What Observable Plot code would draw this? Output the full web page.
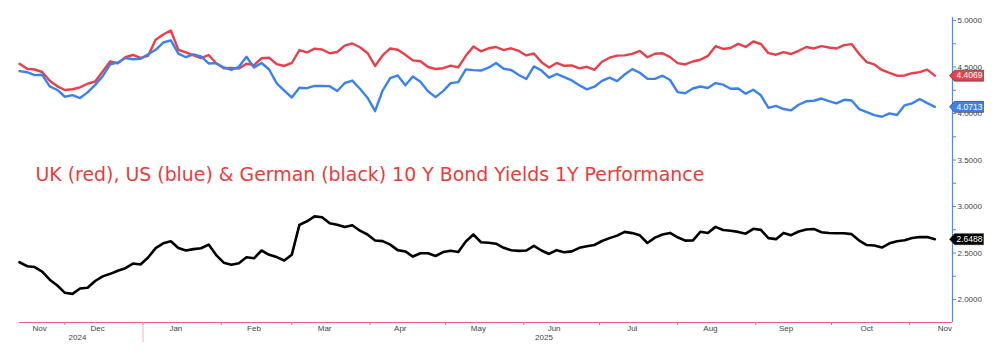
<!DOCTYPE html>
<html><head><meta charset="utf-8">
<script src="https://cdn.jsdelivr.net/npm/d3@7"></script>
<script src="https://cdn.jsdelivr.net/npm/@observablehq/plot@0.6"></script>
<style>body{margin:0;background:#fff}</style>
</head><body><div id="chart"></div>
<script>
const dates = [
"2024-11-13","2024-11-16","2024-11-19","2024-11-22","2024-11-25","2024-11-28","2024-12-01","2024-12-04","2024-12-07","2024-12-10",
"2024-12-13","2024-12-16","2024-12-19","2024-12-22","2024-12-25","2024-12-28","2024-12-31","2025-01-03","2025-01-06","2025-01-09",
"2025-01-12","2025-01-15","2025-01-18","2025-01-21","2025-01-24","2025-01-27","2025-01-30","2025-02-02","2025-02-05","2025-02-08",
"2025-02-11","2025-02-14","2025-02-17","2025-02-20","2025-02-23","2025-02-26","2025-03-01","2025-03-04","2025-03-07","2025-03-10",
"2025-03-13","2025-03-16","2025-03-19","2025-03-22","2025-03-25","2025-03-28","2025-03-31","2025-04-03","2025-04-06","2025-04-09",
"2025-04-12","2025-04-15","2025-04-18","2025-04-21","2025-04-24","2025-04-27","2025-04-30","2025-05-03","2025-05-06","2025-05-09",
"2025-05-12","2025-05-15","2025-05-18","2025-05-21","2025-05-24","2025-05-27","2025-05-30","2025-06-02","2025-06-05","2025-06-08",
"2025-06-11","2025-06-14","2025-06-17","2025-06-20","2025-06-23","2025-06-26","2025-06-29","2025-07-02","2025-07-05","2025-07-08",
"2025-07-11","2025-07-14","2025-07-17","2025-07-20","2025-07-23","2025-07-26","2025-07-29","2025-08-01","2025-08-04","2025-08-07",
"2025-08-10","2025-08-13","2025-08-16","2025-08-19","2025-08-22","2025-08-25","2025-08-28","2025-08-31","2025-09-03","2025-09-06",
"2025-09-09","2025-09-12","2025-09-15","2025-09-18","2025-09-21","2025-09-24","2025-09-27","2025-09-30","2025-10-03","2025-10-06",
"2025-10-09","2025-10-12","2025-10-15","2025-10-18","2025-10-21","2025-10-24","2025-10-27","2025-10-30","2025-11-02","2025-11-05",
"2025-11-08","2025-11-11"];

const ukYield = [4.534,4.480,4.473,4.446,4.352,4.292,4.253,4.261,4.281,4.320,
 4.344,4.452,4.561,4.538,4.606,4.629,4.598,4.620,4.792,4.849,
 4.892,4.685,4.656,4.626,4.595,4.629,4.540,4.486,4.489,4.483,
 4.535,4.520,4.594,4.599,4.530,4.511,4.543,4.682,4.656,4.697,
 4.688,4.648,4.661,4.729,4.753,4.712,4.651,4.511,4.624,4.699,
 4.685,4.631,4.571,4.562,4.500,4.478,4.487,4.514,4.495,4.620,
 4.720,4.668,4.701,4.715,4.681,4.701,4.672,4.624,4.645,4.552,
 4.495,4.543,4.513,4.516,4.485,4.502,4.469,4.556,4.600,4.622,
 4.625,4.641,4.673,4.605,4.642,4.648,4.606,4.542,4.527,4.559,
 4.578,4.619,4.723,4.694,4.704,4.748,4.715,4.774,4.747,4.649,
 4.632,4.660,4.640,4.674,4.715,4.699,4.724,4.710,4.699,4.735,
 4.746,4.640,4.552,4.527,4.468,4.437,4.406,4.409,4.433,4.445,
 4.472,4.4069];

const usYield = [4.455,4.444,4.412,4.416,4.292,4.253,4.180,4.197,4.166,4.227,
 4.308,4.402,4.529,4.548,4.596,4.583,4.588,4.637,4.685,4.763,
 4.787,4.643,4.605,4.635,4.613,4.538,4.541,4.495,4.468,4.502,
 4.610,4.495,4.543,4.473,4.324,4.247,4.172,4.276,4.272,4.297,
 4.296,4.294,4.242,4.328,4.354,4.266,4.170,4.025,4.247,4.380,
 4.409,4.303,4.398,4.341,4.239,4.176,4.241,4.326,4.337,4.474,
 4.466,4.462,4.492,4.543,4.481,4.467,4.414,4.372,4.506,4.462,
 4.385,4.425,4.390,4.355,4.303,4.259,4.288,4.351,4.386,4.348,
 4.419,4.477,4.438,4.374,4.372,4.406,4.360,4.230,4.218,4.269,
 4.290,4.274,4.327,4.310,4.266,4.269,4.213,4.255,4.196,4.061,
 4.081,4.048,4.034,4.094,4.131,4.137,4.161,4.132,4.108,4.147,
 4.140,4.047,4.015,3.983,3.965,4.002,3.984,4.088,4.109,4.156,
 4.111,4.0713];

const deYield = [2.401,2.358,2.349,2.301,2.213,2.151,2.072,2.061,2.118,2.127,
 2.199,2.249,2.276,2.310,2.337,2.387,2.376,2.452,2.553,2.604,
 2.626,2.553,2.526,2.542,2.551,2.591,2.478,2.396,2.373,2.391,
 2.455,2.443,2.527,2.481,2.456,2.420,2.482,2.803,2.841,2.894,
 2.884,2.820,2.803,2.780,2.798,2.740,2.699,2.634,2.628,2.590,
 2.531,2.517,2.462,2.498,2.497,2.468,2.510,2.524,2.511,2.624,
 2.699,2.616,2.611,2.600,2.556,2.529,2.523,2.527,2.577,2.527,
 2.490,2.531,2.508,2.518,2.556,2.572,2.586,2.629,2.660,2.687,
 2.727,2.714,2.690,2.608,2.665,2.699,2.716,2.669,2.633,2.634,
 2.728,2.715,2.781,2.747,2.740,2.727,2.708,2.760,2.749,2.660,
 2.649,2.716,2.692,2.731,2.753,2.759,2.724,2.716,2.712,2.712,
 2.703,2.634,2.586,2.580,2.559,2.604,2.627,2.638,2.661,2.672,
 2.671,2.6488];

const yTicks = [2.0, 2.5, 3.0, 3.5, 4.0, 4.5, 5.0];
const yMinorTicks = [2.25, 2.75, 3.25, 3.75, 4.25, 4.75];
const monthStarts = ["2024-12-01","2025-01-01","2025-02-01","2025-03-01","2025-04-01","2025-05-01",
  "2025-06-01","2025-07-01","2025-08-01","2025-09-01","2025-10-01","2025-11-01"];
const monthLabels = ["Nov","Dec","Jan","Feb","Mar","Apr","May","Jun","Jul","Aug","Sep","Oct","Nov"];
const monthLabelDates = ["2024-11-21","2024-12-14","2025-01-14","2025-02-14","2025-03-14","2025-04-13",
  "2025-05-14","2025-06-13","2025-07-14","2025-08-14","2025-09-13","2025-10-15","2025-11-15"];
const yearLabels = ["2024", "2025"];
const yearLabelDates = ["2024-12-06", "2025-06-09"];
const yearBoundary = ["2025-01-01"];
const xDomain = ["2024-11-13", "2025-11-18"];
const yDomain = [1.753, 5.032];
const title = "UK (red), US (blue) & German (black) 10 Y Bond Yields 1Y Performance";

const D = s => new Date(s + "T00:00:00Z");
const series = [
  {name: "UK", values: ukYield, color: "#e8404a", tag: "#e8404a", width: 2.4},
  {name: "US", values: usYield, color: "#3b82f0", tag: "#3b82f0", width: 2.4},
  {name: "DE", values: deYield, color: "#000000", tag: "#000000", width: 2.6}
];
const AX_BLUE = "#4a8cf5", AX_RED = "#f06070", TXT = "#444";
const FONT = "'Liberation Sans', Arial, sans-serif";

const tagSymbol = {
  draw(ctx) {
    ctx.moveTo(-3, 0); ctx.lineTo(2, -5.5); ctx.lineTo(31, -5.5);
    ctx.lineTo(31, 5.5); ctx.lineTo(2, 5.5); ctx.closePath();
  }
};

const marks = [];
for (const s of series) {
  const rows = dates.map((d, i) => ({date: D(d), value: s.values[i]}));
  marks.push(Plot.line(rows, {x: "date", y: "value", stroke: s.color, strokeWidth: s.width, strokeLinejoin: "round", strokeLinecap: "round"}));
}
// axis lines
marks.push(Plot.ruleY([yDomain[0]], {stroke: AX_RED, strokeWidth: 1.2}));
marks.push(Plot.ruleX([D(xDomain[1])], {stroke: AX_BLUE, strokeWidth: 1.2}));
// y axis (right)
marks.push(Plot.axisY({anchor: "right", ticks: yTicks, tickSize: 3, tickPadding: 2, tickFormat: d => d.toFixed(4),
  fontSize: 8, fontFamily: FONT, stroke: AX_BLUE, fill: TXT}));
marks.push(Plot.axisY({anchor: "right", ticks: yMinorTicks, tickSize: 3, tickFormat: () => "", stroke: AX_BLUE}));
// x axis ticks
marks.push(Plot.axisX({ticks: monthStarts.map(D), tickSize: 3, tickFormat: () => "", stroke: AX_RED}));
marks.push(Plot.axisX({ticks: yearBoundary.map(D), tickSize: 20, tickFormat: () => "", stroke: "#f7b4bc"}));
marks.push(Plot.text(monthLabels, {x: (d, i) => D(monthLabelDates[i]), text: d => d, frameAnchor: "bottom", dy: 8,
  fontSize: 8, fontFamily: FONT, fill: TXT}));
marks.push(Plot.text(yearLabels, {x: (d, i) => D(yearLabelDates[i]), text: d => d, frameAnchor: "bottom", dy: 17,
  fontSize: 8, fontFamily: FONT, fill: TXT}));
// last value tags
for (const s of series) {
  const last = [{date: D(xDomain[1]), value: s.values[s.values.length - 1]}];
  marks.push(Plot.dot(last, {x: "date", y: "value", symbol: tagSymbol, r: 4, fill: s.tag, stroke: "#333", strokeWidth: 0.6}));
  marks.push(Plot.text(last, {x: "date", y: "value", text: d => d.value.toFixed(4), dx: 17, fill: "white",
    fontSize: 8.5, fontFamily: FONT}));
}
// title
marks.push(Plot.text([title], {frameAnchor: "top-left", text: d => d, dx: 16, dy: 150, textAnchor: "start",
  fontSize: 18.9, fontFamily: "'DejaVu Sans', Verdana, sans-serif", fill: "#ec3b3b"}));

const chart = Plot.plot({
  width: 998, height: 356,
  marginLeft: 19, marginRight: 46, marginTop: 17, marginBottom: 34,
  style: {background: "white", overflow: "visible"},
  x: {type: "utc", domain: xDomain.map(D), axis: null, label: null},
  y: {domain: yDomain, axis: null, label: null},
  marks
});
document.getElementById("chart").appendChild(chart);
</script>
</body></html>
